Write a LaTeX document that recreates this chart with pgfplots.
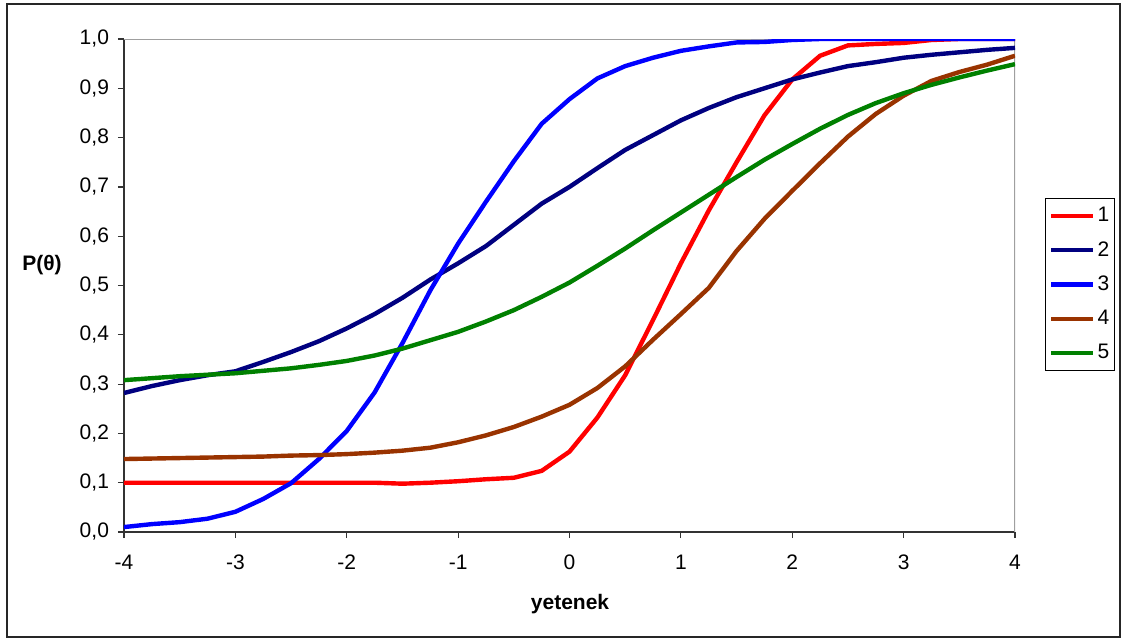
\documentclass[border=0pt]{standalone}
\usepackage{fontspec}
\setmainfont{Liberation Sans}
\usepackage{pgfplots}
\usepackage{pgfplotstable}
\pgfplotsset{compat=1.18}
\definecolor{cRed}{HTML}{FF0000}
\definecolor{cNavy}{HTML}{000080}
\definecolor{cBlue}{HTML}{0000FF}
\definecolor{cBrown}{HTML}{993300}
\definecolor{cGreen}{HTML}{008000}

\pgfplotstableread{
x     s1     s2     s3     s4     s5
-4    0.100  0.282  0.010  0.148  0.308
-3.75 0.100  0.296  0.016  0.149  0.312
-3.5  0.100  0.308  0.020  0.150  0.316
-3.25 0.100  0.318  0.027  0.151  0.319
-3    0.100  0.326  0.041  0.152  0.322
-2.75 0.100  0.345  0.067  0.153  0.327
-2.5  0.100  0.365  0.099  0.155  0.332
-2.25 0.100  0.387  0.148  0.156  0.339
-2    0.100  0.413  0.205  0.158  0.347
-1.75 0.100  0.442  0.283  0.161  0.358
-1.5  0.098  0.475  0.383  0.165  0.372
-1.25 0.100  0.512  0.490  0.171  0.389
-1    0.103  0.545  0.585  0.182  0.406
-0.75 0.107  0.580  0.670  0.196  0.427
-0.5  0.110  0.623  0.752  0.213  0.450
-0.25 0.124  0.666  0.828  0.234  0.477
0     0.163  0.700  0.878  0.258  0.506
0.25  0.232  0.738  0.920  0.292  0.540
0.5   0.318  0.775  0.945  0.336  0.575
0.75  0.430  0.805  0.962  0.390  0.612
1     0.545  0.835  0.976  0.442  0.648
1.25  0.652  0.860  0.985  0.495  0.684
1.5   0.750  0.882  0.993  0.570  0.720
1.75  0.845  0.900  0.994  0.635  0.755
2     0.918  0.918  0.998  0.692  0.787
2.25  0.966  0.932  1.000  0.748  0.818
2.5   0.987  0.945  1.000  0.802  0.846
2.75  0.990  0.953  1.000  0.848  0.870
3     0.992  0.962  1.000  0.885  0.890
3.25  0.998  0.968  1.000  0.915  0.907
3.5   1.000  0.973  1.000  0.933  0.922
3.75  1.000  0.978  1.000  0.948  0.936
4     1.000  0.982  1.000  0.966  0.949
}\datatable

\begin{document}
\begin{tikzpicture}
\useasboundingbox (-62pt,-53.5pt) rectangle (500pt,266pt);
\begin{axis}[
  at={(0pt,0pt)}, anchor=south west,
  width=445.5pt, height=246.5pt, scale only axis,
  xmin=-4, xmax=4, ymin=0, ymax=1,
  xtick={-4,-3,-2,-1,0,1,2,3,4},
  ytick={0,0.1,0.2,0.3,0.4,0.5,0.6,0.7,0.8,0.9,1},
  axis lines*=left,
  axis line style={black!80, line width=0.8pt},
  tick align=outside, major tick length=3pt,
  tick style={black!80, line width=0.6pt},
  /pgf/number format/assume math mode=true,
  tick label style={font=\fontsize{10.5}{12}\selectfont},
  yticklabel style={xshift=-1pt, /pgf/number format/.cd, fixed, fixed zerofill, precision=1, use comma},
  xticklabel style={yshift=-5pt, /pgf/number format/.cd, fixed, precision=0},
  xlabel={\textbf{yetenek}},
  xlabel style={font=\fontsize{10.5}{12}\selectfont, at={(axis description cs:0.5006,-0.1562)}, anchor=base},
  ylabel={\textbf{P(θ)}},
  ylabel style={font=\fontsize{10.5}{12}\selectfont, rotate=-90, at={(axis description cs:-0.092,0.5314)}, anchor=base},
  legend style={at={(axis description cs:1.0337,0.6775)}, anchor=north west,
    draw=black, line width=0.5pt, inner xsep=1.8pt, inner ysep=3.3pt,
    nodes={inner sep=1pt}, row sep=6.4pt,
    font=\fontsize{10.5}{12}\selectfont},
  legend cell align=left,
  legend image code/.code={\draw[#1, line width=2.2pt] (0pt,0pt) -- (21pt,0pt);},
]
\draw[gray!75, line width=0.6pt] (rel axis cs:0,1) -- (rel axis cs:1,1) -- (rel axis cs:1,0);
\addplot[cRed, line width=2.2pt] table[x=x, y=s1] {\datatable};
\addplot[cNavy, line width=2.2pt] table[x=x, y=s2] {\datatable};
\addplot[cBlue, line width=2.2pt] table[x=x, y=s3] {\datatable};
\addplot[cBrown, line width=2.2pt] table[x=x, y=s4] {\datatable};
\addplot[cGreen, line width=2.2pt] table[x=x, y=s5] {\datatable};
\legend{1,2,3,4,5}
\end{axis}
\draw[black!85, line width=0.6pt] (-58.5pt,-52.5pt) rectangle (498pt,264pt);
\end{tikzpicture}
\end{document}
